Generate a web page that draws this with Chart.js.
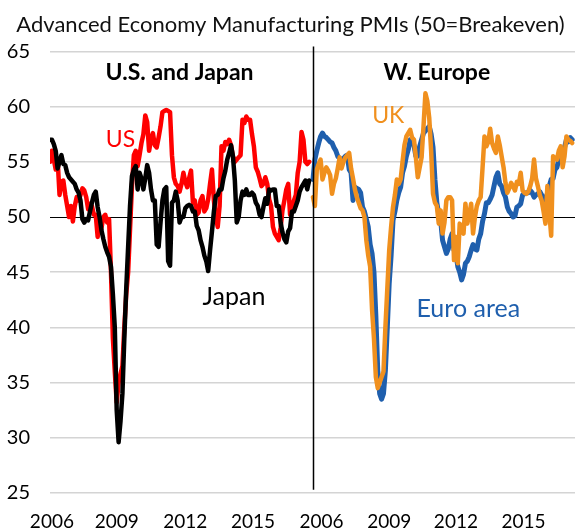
<!DOCTYPE html>
<html>
<head>
<meta charset="utf-8">
<script src="https://cdn.jsdelivr.net/npm/chart.js@4.4.1/dist/chart.umd.min.js"></script>
<style>
  html, body { margin: 0; padding: 0; background: #fff; }
</style>
</head>
<body>
<canvas id="pmiChart" width="576" height="531"></canvas>
<script>
// monthly PMI, Jan 2006 - May 2017
const usPmi = [
  55.0, 56.0, 55.2, 54.3, 55.2, 52.0, 53.2, 53.3, 52.0, 51.0, 50.0, 51.0,
  49.6, 51.0, 51.8, 51.5, 52.0, 52.6, 52.4, 51.8, 50.7, 51.2, 51.0, 50.2,
  50.2, 48.2, 49.5, 49.0, 50.0, 50.2, 49.5, 49.8, 45.0, 39.0, 36.0, 33.2,
  35.0, 35.8, 36.5, 40.0, 43.0, 45.0, 48.9, 52.8, 55.6, 56.0, 54.6, 55.6,
  56.7, 57.5, 59.2, 58.6, 56.0, 57.0, 57.6, 56.5, 56.3, 57.2, 58.2, 59.5,
  59.6, 59.7, 59.6, 59.5, 55.6, 53.6, 53.0, 52.8, 52.3, 53.0, 54.0, 53.2,
  52.7, 53.5, 54.2, 51.3, 51.5, 50.2, 50.4, 51.5, 51.9, 50.5, 50.8, 51.6,
  53.0, 54.3, 51.5, 50.0, 49.1, 51.0, 56.4, 56.0, 56.8, 56.6, 57.0, 56.5,
  55.5, 55.0, 55.2, 55.4, 55.6, 58.8, 58.5, 59.1, 58.8, 58.8, 57.5, 56.4,
  54.5, 54.1, 53.5, 52.8, 53.0, 53.6, 53.0, 51.6, 51.0, 49.1, 48.5, 48.2,
  47.9, 49.0, 50.6, 51.5, 52.5, 53.0, 50.2, 51.0, 51.5, 52.0, 54.0, 55.0,
  57.7, 57.0, 55.0, 54.8, 55.0
];
const japanPmi = [
  57.0, 57.0, 56.6, 56.0, 54.4, 55.0, 55.6, 54.8, 54.7, 54.0, 53.6, 53.4,
  53.2, 53.0, 52.5, 52.2, 51.5, 49.8, 49.5, 49.8, 49.7, 50.5, 51.3, 52.0,
  52.3, 50.9, 50.0, 48.8, 48.0, 47.3, 46.8, 46.4, 45.5, 43.0, 40.0, 32.5,
  29.6, 31.5, 34.0, 39.0, 43.5, 47.3, 51.0, 53.7, 54.3, 54.6, 52.5, 54.0,
  53.5, 52.5, 53.5, 54.7, 54.0, 52.5, 51.5, 51.5, 47.5, 47.3, 49.5, 51.5,
  52.5, 52.7, 46.0, 45.6, 51.3, 51.5, 52.3, 51.5, 49.5, 50.0, 50.0, 50.8,
  51.0, 51.1, 51.0, 50.5, 50.5, 49.2, 48.8, 47.9, 47.3, 46.5, 46.0, 45.1,
  47.0, 48.7, 50.5, 51.9, 52.0, 52.5, 52.5, 53.5, 54.2, 55.2, 55.8, 56.5,
  55.5, 53.3, 49.5, 50.0, 51.5, 52.3, 52.0, 52.5, 52.0, 52.0, 52.2, 52.0,
  51.3, 51.0, 50.2, 50.0, 50.9, 51.7, 51.2, 52.5, 52.4, 52.5, 52.5, 51.0,
  51.0, 49.5, 48.6, 48.0, 47.7, 48.7, 49.0, 50.5, 50.5, 51.0, 51.5, 52.3,
  52.7, 53.0, 53.3, 52.5, 53.3
];
const euroPmi = [
  53.4, 55.2, 56.0, 56.7, 57.3, 57.6, 57.3, 57.2, 57.0, 56.8, 56.7, 56.3,
  56.0, 55.5, 55.3, 55.2, 55.3, 55.5, 55.6, 54.3, 54.0, 51.5, 52.7, 52.6,
  52.5, 52.2, 50.9, 50.5, 49.8, 49.1, 47.5, 46.7, 45.0, 41.0, 36.0, 34.0,
  33.5, 34.0, 36.1, 40.0, 44.0, 46.5, 49.7, 50.5, 51.5, 52.2, 52.7, 54.0,
  54.6, 55.5, 56.1, 57.0, 56.8, 56.5, 55.5, 55.5, 56.4, 57.0, 57.6, 57.8,
  58.0, 58.2, 57.5, 56.3, 53.4, 51.3, 50.3, 49.7, 47.9, 47.3, 46.7, 47.1,
  48.0, 48.5, 47.0, 46.7, 45.5, 45.0, 44.3, 44.8, 45.8, 46.0, 46.4, 47.0,
  47.5, 47.1, 47.0, 48.0, 48.5, 49.6, 50.3, 51.3, 51.3, 51.6, 52.0, 52.8,
  53.6, 54.0, 53.0, 52.8, 52.2, 51.8, 50.9, 50.5, 50.3, 50.0, 50.1, 50.9,
  51.0, 51.2, 52.0, 52.1, 52.2, 52.2, 52.4, 52.2, 51.8, 52.0, 52.1, 52.3,
  52.0, 51.5, 51.6, 52.1, 52.8, 53.4, 53.5, 54.3, 54.5, 55.2, 55.5, 56.1,
  56.3, 57.0, 56.8, 57.2, 57.0
];
const ukPmi = [
  51.8, 51.0, 54.3, 54.8, 55.2, 53.4, 54.0, 54.5, 54.2, 53.8, 52.1, 53.0,
  53.5, 54.4, 55.4, 54.4, 55.0, 55.4, 55.6, 55.8, 54.4, 53.5, 52.5, 51.8,
  51.3, 50.8, 50.6, 50.0, 47.9, 46.5, 45.5, 41.6, 39.0, 35.5, 34.5, 35.0,
  35.5, 36.0, 40.0, 43.5, 47.0, 49.1, 50.9, 52.0, 53.4, 53.0, 53.4, 55.0,
  56.5, 57.3, 57.6, 57.9, 57.2, 57.0, 55.4, 53.6, 54.5, 55.4, 58.2, 61.2,
  60.5, 59.0, 56.0, 52.1, 51.3, 51.0, 49.4, 50.6, 48.5, 49.5, 51.5, 51.8,
  51.8, 51.5, 46.1, 48.2, 45.8, 49.4, 48.8, 48.5, 51.2, 49.4, 50.2, 51.2,
  48.5, 50.0, 51.0, 51.5, 51.8, 54.5, 57.3, 56.4, 56.8, 58.0, 56.7, 56.2,
  55.8, 57.3, 56.5, 55.5, 54.5, 53.1, 52.2, 52.6, 53.1, 52.8, 52.4, 53.2,
  53.0, 54.0, 52.4, 52.2, 52.1, 52.3, 52.8, 53.5, 55.2, 53.5, 52.8, 52.0,
  51.5, 50.5, 49.4, 52.8, 50.5, 48.3, 55.5, 55.3, 55.2, 56.0, 56.4, 54.5,
  55.5, 57.3, 57.0, 56.9, 56.7
];

// right panel starts this many months after the left one
const panelShift = 138;
const yearLabels = ['2006', '2009', '2012', '2015', '2006', '2009', '2012', '2015'];
const yearTickMonths = [1, 35, 71, 106.5, 142.5, 178, 213, 248.5];

const FONT = 'Lato, "Open Sans", sans-serif';

function toPoints(values, shift) {
  return values.map((v, i) => ({ x: i + shift, y: v }));
}

function lineSet(label, values, shift, color, width) {
  return {
    label: label,
    data: toPoints(values, shift),
    borderColor: color,
    backgroundColor: color,
    borderWidth: width,
    pointRadius: 0,
    tension: 0,
    borderJoinStyle: 'round',
    borderCapStyle: 'round'
  };
}

// text labels and the panel divider
const notes = [
  { text: 'U.S. and Japan', x: 68, y: 63.1, color: '#000', size: 23, bold: true },
  { text: 'W. Europe', x: 203, y: 63.1, color: '#000', size: 23, bold: true },
  { text: 'US', x: 37, y: 57.0, color: '#ff0000', size: 23 },
  { text: 'Japan', x: 96.5, y: 42.8, color: '#000', size: 25 },
  { text: 'UK', x: 177.5, y: 59.2, color: '#f0901e', size: 23 },
  { text: 'Euro area', x: 219.5, y: 41.7, color: '#1f5fad', size: 25 }
];

const notesPlugin = {
  id: 'notes',
  afterDatasetsDraw(chart) {
    const ctx = chart.ctx;
    const xs = chart.scales.x, ys = chart.scales.y;
    ctx.save();
    const dx = Math.round(xs.getPixelForValue(panelShift)) + 0.5;
    ctx.strokeStyle = '#000';
    ctx.lineWidth = 1.5;
    ctx.beginPath();
    ctx.moveTo(dx, ys.getPixelForValue(65.45));
    ctx.lineTo(dx, ys.getPixelForValue(25.3));
    ctx.stroke();
    ctx.textAlign = 'center';
    ctx.textBaseline = 'middle';
    notes.forEach(n => {
      ctx.font = (n.bold ? 'bold ' : '') + n.size + 'px ' + FONT;
      ctx.fillStyle = n.color;
      ctx.fillText(n.text, xs.getPixelForValue(n.x), ys.getPixelForValue(n.y));
    });
    ctx.restore();
  }
};

const ctx = document.getElementById('pmiChart').getContext('2d');
const pmiChart = new Chart(ctx, {
  type: 'line',
  data: {
    datasets: [
      lineSet('Japan', japanPmi, 0, '#000000', 4.5),
      lineSet('US', usPmi, 0, '#ff0000', 4.5),
      lineSet('UK', ukPmi, panelShift, '#f0901e', 4.5),
      lineSet('Euro area', euroPmi, panelShift, '#1f5fad', 5)
    ]
  },
  options: {
    responsive: false,
    animation: false,
    layout: { padding: { left: 6, right: 1, top: 0, bottom: 2 } },
    plugins: {
      legend: { display: false },
      tooltip: { enabled: false },
      title: {
        display: true,
        text: 'Advanced Economy Manufacturing PMIs (50=Breakeven)',
        color: '#111',
        font: { family: FONT, size: 22, weight: 'normal' },
        padding: { top: 12, bottom: 13 }
      }
    },
    scales: {
      x: {
        type: 'linear',
        min: 0,
        max: 275.5,
        grid: { display: false, drawTicks: false },
        border: { display: false },
        afterBuildTicks: axis => {
          axis.ticks = yearTickMonths.map(v => ({ value: v }));
        },
        afterFit: axis => {
          axis.height = 36;
          axis.paddingLeft = 0;
          axis.paddingRight = 0;
        },
        ticks: {
          autoSkip: false,
          maxRotation: 0,
          padding: 17.5,
          color: '#000',
          font: { family: FONT, size: 19 },
          callback: (val, i) => yearLabels[i]
        }
      },
      y: {
        min: 25,
        max: 65,
        afterFit: axis => {
          axis.width = 44;
        },
        ticks: {
          stepSize: 5,
          padding: 20,
          color: '#000',
          font: { family: FONT, size: 20 }
        },
        grid: {
          drawTicks: false,
          color: c => c.tick.value === 50 ? '#000' : '#d4d4d4',
          lineWidth: c => c.tick.value === 50 ? 1 : 1.5
        },
        border: { display: false }
      }
    }
  },
  plugins: [notesPlugin]
});
</script>
</body>
</html>
